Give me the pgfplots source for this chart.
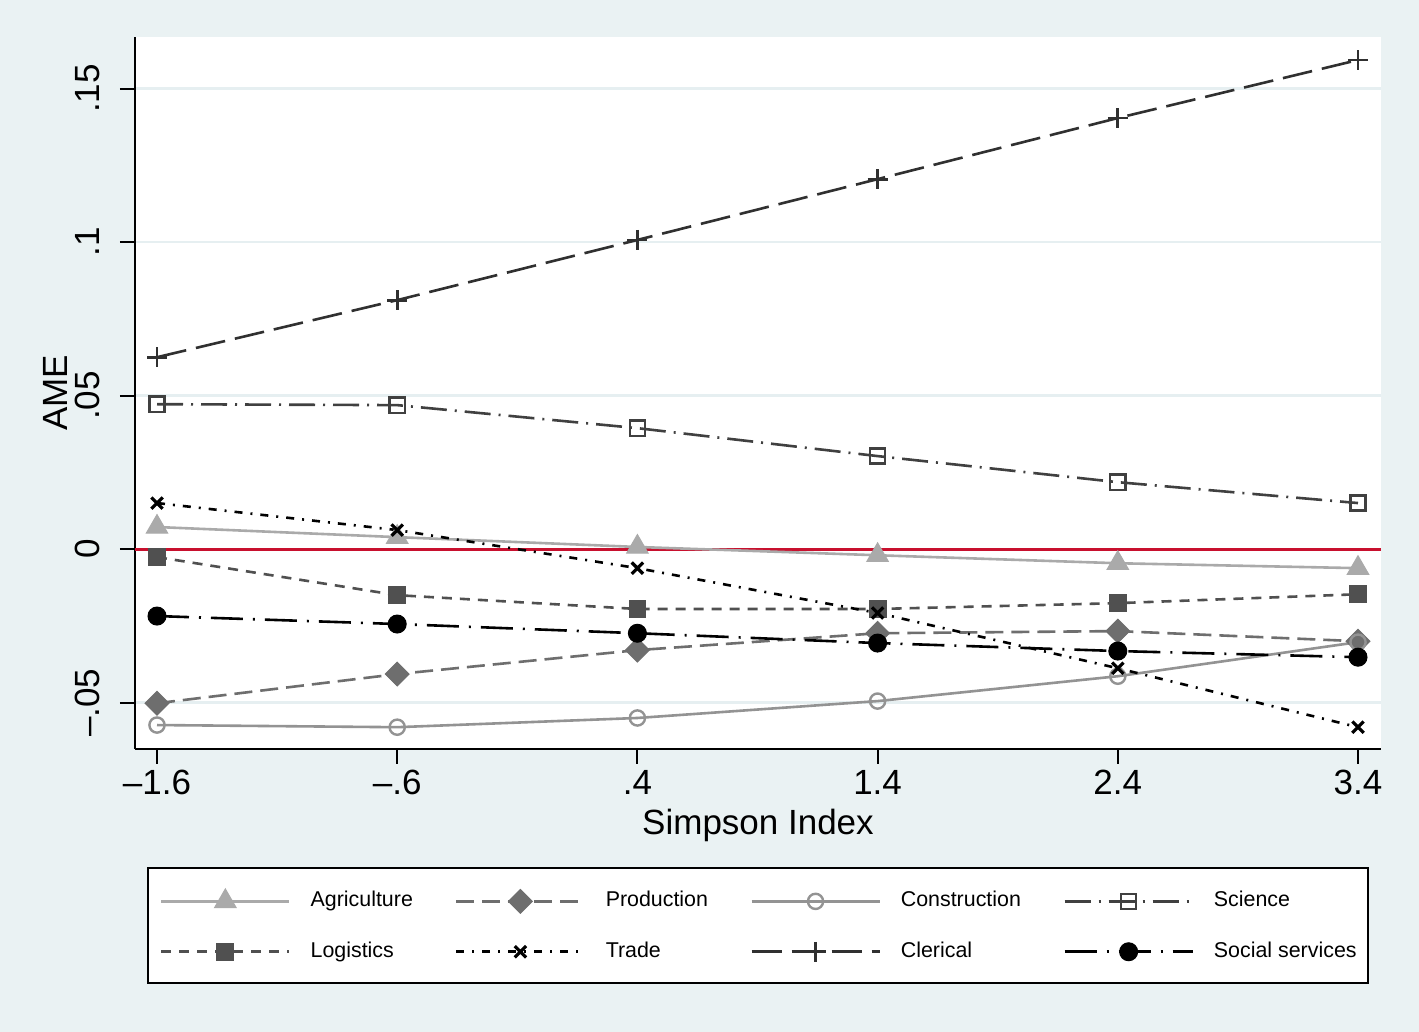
\documentclass[border=0pt]{standalone}
\usepackage{fontspec}
\setmainfont{Liberation Sans}
\usepackage{pgfplots}
\pgfplotsset{compat=1.18}

\definecolor{bgc}{HTML}{EAF2F3}
\definecolor{gridc}{HTML}{E6EFF1}
\definecolor{zeroc}{HTML}{C8102E}
\definecolor{agric}{HTML}{AAAAAA}
\definecolor{prodc}{HTML}{6E6E6E}
\definecolor{consc}{HTML}{939393}
\definecolor{scic}{HTML}{404040}
\definecolor{logc}{HTML}{505050}
\definecolor{cleric}{HTML}{303030}

\newcommand{\lblfont}{\fontsize{17.5}{20}\selectfont}

\begin{document}
\begin{tikzpicture}
\fill[bgc] (0,0) rectangle (709.5pt,516pt);
\useasboundingbox (0,0) rectangle (709.5pt,516pt);
\begin{axis}[
  at={(67.5pt,141.5pt)}, anchor=south west,
  width=623pt, height=356pt, scale only axis,
  xmin=-1.6916, xmax=3.4958, ymin=-0.0651, ymax=0.1668,
  axis x line*=bottom, axis y line*=left,
  axis line style={-, line width=1pt, black},
  axis background/.style={fill=white},
  xtick={-1.6,-0.6,0.4,1.4,2.4,3.4},
  xticklabels={\textendash1.6,\textendash.6,.4,1.4,2.4,3.4},
  ytick={-0.05,0,0.05,0.1,0.15},
  yticklabels={\textendash.05,0,.05,.1,.15},
  tick align=outside, major tick length=7.5pt,
  tick style={line width=1pt, black},
  ymajorgrids, grid style={gridc, line width=1.2pt},
  ticklabel style={font=\lblfont},
  yticklabel style={rotate=90, anchor=south, inner xsep=0pt, inner ysep=10pt},
  xticklabel style={anchor=north, inner sep=0pt, yshift=-3pt},
  xlabel={Simpson Index}, ylabel={AME},
  label style={font=\lblfont},
  xlabel style={at={(axis description cs:0.5,0)}, anchor=base, yshift=-43pt},
  ylabel style={at={(axis description cs:0,0.5)}, anchor=base, yshift=33.5pt},
  every axis plot/.append style={line width=1.3pt},
  legend columns=4,
  legend cell align=left,
  legend style={at={(0.5,-0.1657)}, anchor=north, draw=black, line width=1pt,
    fill=white, font=\fontsize{10.7}{12}\selectfont,
    inner xsep=6pt, inner ysep=10.5pt, row sep=14pt, column sep=0pt,
    nodes={inner xsep=0pt, inner ysep=0pt, text height=8pt, text depth=2.5pt},
    /tikz/every odd column/.append style={column sep=10pt}},
  legend image code/.code={\draw[mark repeat=2,mark phase=2] plot coordinates {(0pt,0pt) (32pt,0pt) (64pt,0pt)};},
]
\draw[zeroc, line width=1.5pt] (axis cs:-1.6916,0) -- (axis cs:3.4958,0);

\addplot[agric, solid, mark=triangle*, mark size=6.2pt, mark options={solid, fill=agric, line width=0.5pt}]
  coordinates {(-1.6,0.0072)(-0.6,0.0039)(0.4,0.0007)(1.4,-0.0020)(2.4,-0.0046)(3.4,-0.0062)};
\addlegendentry{\makebox[72.25pt][l]{Agriculture}}

\addplot[prodc, dash pattern=on 9pt off 4pt, mark=square*, mark size=4.2pt, mark options={solid, rotate=45, fill=prodc, line width=0.5pt}]
  coordinates {(-1.6,-0.0502)(-0.6,-0.0407)(0.4,-0.0329)(1.4,-0.0274)(2.4,-0.0267)(3.4,-0.0300)};
\addlegendentry{\makebox[72.25pt][l]{Production}}

\addplot[consc, solid, mark=o, mark size=3.8pt, mark options={solid, line width=1.2pt}]
  coordinates {(-1.6,-0.0573)(-0.6,-0.0580)(0.4,-0.0550)(1.4,-0.0495)(2.4,-0.0414)(3.4,-0.0303)};
\addlegendentry{\makebox[81.25pt][l]{Construction}}

\addplot[scic, dash pattern=on 13pt off 4pt on 1pt off 4pt, mark=square, mark size=3.8pt, mark options={solid, line width=1.2pt}]
  coordinates {(-1.6,0.0472)(-0.6,0.0469)(0.4,0.0394)(1.4,0.0303)(2.4,0.0218)(3.4,0.0150)};
\addlegendentry{\makebox[71pt][l]{Science}}

\addplot[logc, dash pattern=on 5pt off 4pt, mark=square*, mark size=4.2pt, mark options={solid, fill=logc, line width=0.5pt}]
  coordinates {(-1.6,-0.0026)(-0.6,-0.0150)(0.4,-0.0195)(1.4,-0.0195)(2.4,-0.0176)(3.4,-0.0147)};
\addlegendentry{\makebox[72.25pt][l]{Logistics}}

\addplot[black, dash pattern=on 4pt off 4pt on 1pt off 4pt, mark=x, mark size=4pt, mark options={solid, line width=1.6pt}]
  coordinates {(-1.6,0.0150)(-0.6,0.0062)(0.4,-0.0062)(1.4,-0.0208)(2.4,-0.0388)(3.4,-0.0580)};
\addlegendentry{\makebox[72.25pt][l]{Trade}}

\addplot[cleric, dash pattern=on 15pt off 5pt, mark=+, mark size=5pt, mark options={solid, line width=1.4pt}]
  coordinates {(-1.6,0.0625)(-0.6,0.0811)(0.4,0.1007)(1.4,0.1205)(2.4,0.1404)(3.4,0.1593)};
\addlegendentry{\makebox[81.25pt][l]{Clerical}}

\addplot[black, dash pattern=on 16pt off 5pt on 1pt off 5pt, mark=*, mark size=4.5pt, mark options={solid, fill=black, line width=0.5pt}]
  coordinates {(-1.6,-0.0218)(-0.6,-0.0244)(0.4,-0.0274)(1.4,-0.0306)(2.4,-0.0332)(3.4,-0.0352)};
\addlegendentry{\makebox[71pt][l]{Social services}}
\end{axis}
\end{tikzpicture}
\end{document}
